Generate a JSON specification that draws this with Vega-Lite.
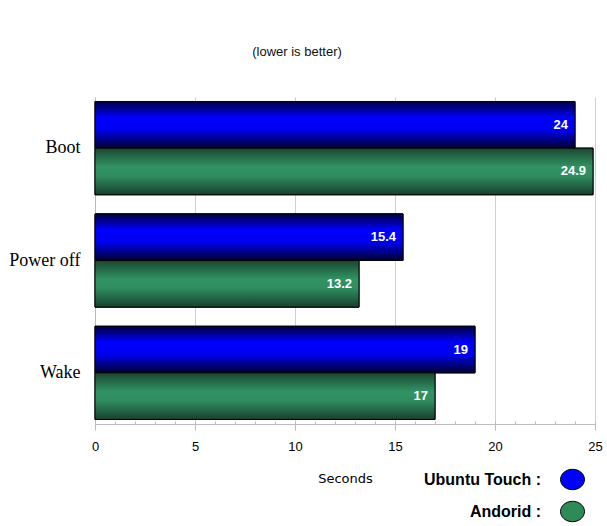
{
  "$schema": "https://vega.github.io/schema/vega-lite/v6.json",
  "width": 500,
  "height": 327,
  "autosize": {"type": "none"},
  "padding": {"left": 95, "top": 97, "right": 12, "bottom": 102},
  "background": "white",
  "title": {
    "text": "(lower is better)",
    "font": "Liberation Sans",
    "fontSize": 13,
    "fontWeight": "normal",
    "color": "#111111",
    "anchor": "middle",
    "baseline": "bottom",
    "dx": -48,
    "offset": 25
  },
  "data": {
    "values": [
      {"cat": "Boot", "series": "Ubuntu Touch", "v": 24},
      {"cat": "Boot", "series": "Andorid", "v": 24.9},
      {"cat": "Power off", "series": "Ubuntu Touch", "v": 15.4},
      {"cat": "Power off", "series": "Andorid", "v": 13.2},
      {"cat": "Wake", "series": "Ubuntu Touch", "v": 19},
      {"cat": "Wake", "series": "Andorid", "v": 17}
    ]
  },
  "encoding": {
    "y": {
      "field": "cat",
      "type": "nominal",
      "sort": ["Boot", "Power off", "Wake"],
      "scale": {"paddingInner": 0.17, "paddingOuter": 0.04},
      "axis": {
        "title": null,
        "labelFont": "Liberation Serif",
        "labelFontSize": 18,
        "labelColor": "#000000",
        "labelPadding": 15,
        "ticks": false,
        "domainColor": "#bbbbbb"
      }
    },
    "yOffset": {
      "field": "series",
      "type": "nominal",
      "sort": ["Ubuntu Touch", "Andorid"],
      "scale": {"paddingInner": 0, "paddingOuter": 0}
    }
  },
  "resolve": {"axis": {"x": "independent"}},
  "layer": [
    {
      "mark": {"type": "bar", "stroke": "#000000", "strokeWidth": 1},
      "encoding": {
        "x": {
          "field": "v",
          "type": "quantitative",
          "scale": {"domain": [0, 25], "nice": false},
          "axis": {
            "values": [0, 5, 10, 15, 20, 25],
            "grid": true,
            "gridColor": "#d0d0d0",
            "domainColor": "#bbbbbb",
            "tickColor": "#bbbbbb",
            "tickSize": 6,
            "labelFlush": false,
            "labelFont": "Liberation Sans",
            "labelFontSize": 13,
            "labelColor": "#000000",
            "labelPadding": 10,
            "title": "Seconds",
            "titleFont": "DejaVu Sans",
            "titleFontSize": 13,
            "titleFontWeight": "normal",
            "titleColor": "#000000",
            "titlePadding": 19
          }
        },
        "fill": {
          "field": "series",
          "type": "nominal",
          "scale": {"domain": ["Ubuntu Touch", "Andorid"], "range": ["#0000ff", "#2e8b57"]},
          "legend": {
            "orient": "none",
            "legendX": 465,
            "legendY": 370,
            "title": null,
            "padding": 0,
            "symbolType": "M-1,0A1,0.85,0,1,1,1,0A1,0.85,0,1,1,-1,0Z",
            "symbolSize": 576,
            "symbolStrokeColor": "#000000",
            "symbolStrokeWidth": 1,
            "symbolOpacity": 1,
            "rowPadding": 7,
            "labelAlign": "right",
            "labelOffset": -44,
            "labelExpr": "datum.label + ' :'",
            "labelFont": "Liberation Sans",
            "labelFontSize": 16,
            "labelFontWeight": "bold",
            "labelColor": "#000000",
            "labelLimit": 300
          }
        }
      }
    },
    {
      "mark": {"type": "bar", "stroke": "#000000", "strokeWidth": 1},
      "encoding": {
        "x": {"field": "v", "type": "quantitative", "axis": null},
        "fill": {
          "condition": {
            "test": "datum.series === 'Ubuntu Touch'",
            "value": {
              "gradient": "linear", "x1": 0, "y1": 0, "x2": 0, "y2": 1,
              "stops": [
                {"offset": 0, "color": "#000040"},
                {"offset": 0.35, "color": "#0000ff"},
                {"offset": 0.6, "color": "#0000f0"},
                {"offset": 1, "color": "#000030"}
              ]
            }
          },
          "value": {
            "gradient": "linear", "x1": 0, "y1": 0, "x2": 0, "y2": 1,
            "stops": [
              {"offset": 0, "color": "#1a4630"},
              {"offset": 0.4, "color": "#319364"},
              {"offset": 0.6, "color": "#2f8c60"},
              {"offset": 1, "color": "#17402b"}
            ]
          }
        }
      }
    },
    {
      "mark": {
        "type": "text",
        "align": "right",
        "baseline": "middle",
        "dx": -7,
        "font": "Liberation Sans",
        "fontSize": 13,
        "fontWeight": "bold",
        "fill": "#ffffff"
      },
      "encoding": {
        "x": {
          "field": "v",
          "type": "quantitative",
          "axis": {
            "orient": "top",
            "offset": -327,
            "values": [0, 1, 2, 3, 4, 5, 6, 7, 8, 9, 10, 11, 12, 13, 14, 15, 16, 17, 18, 19, 20, 21, 22, 23, 24, 25],
            "tickSize": 3,
            "tickColor": "#bbbbbb",
            "domain": false,
            "labels": false,
            "grid": false,
            "title": null
          }
        },
        "text": {"field": "v", "type": "quantitative"}
      }
    }
  ],
  "config": {
    "view": {"stroke": null}
  }
}
